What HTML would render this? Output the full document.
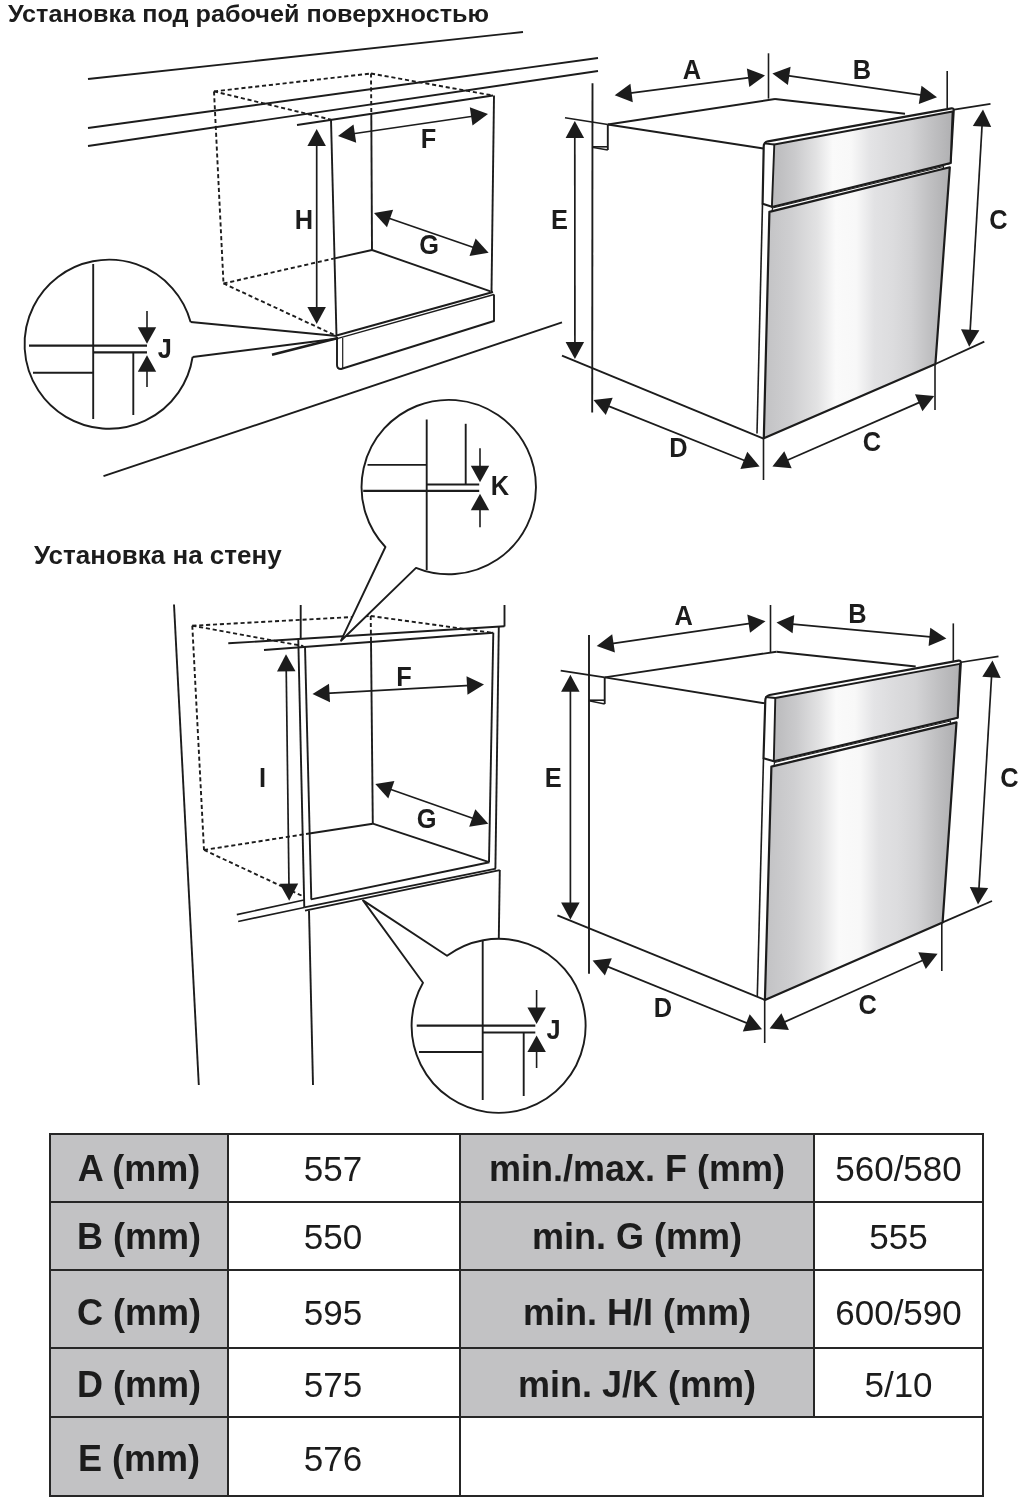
<!DOCTYPE html>
<html lang="ru"><head><meta charset="utf-8"><title>Установка</title>
<style>
html,body{margin:0;padding:0;background:#fff;}
body{width:1020px;height:1500px;overflow:hidden;font-family:"Liberation Sans",sans-serif;}
svg{display:block;}
svg text{font-family:"Liberation Sans",sans-serif;}
svg{will-change:transform;position:absolute;left:0;top:0;}
body{position:relative;color:#1c1c1c;}
h1,h2{position:absolute;margin:0;font-weight:bold;white-space:nowrap;line-height:1;transform-origin:0 0;will-change:transform;}
h1{left:8px;top:2.5px;font-size:23px;transform:scaleX(1.096);}
h2{left:33.7px;top:543.3px;font-size:25.7px;transform:scaleX(1.012);}
table{position:absolute;left:49px;top:1133px;border-collapse:collapse;table-layout:fixed;width:934px;will-change:transform;}
td,th{border:2px solid #262626;padding:0;text-align:center;vertical-align:middle;font-size:35px;font-weight:normal;line-height:40px;background:#fff;box-sizing:border-box;}
th{background:#c2c2c4;font-size:36px;font-weight:bold;}
td.v1{padding-right:22px;}
tr.r0>*{height:68px;padding-top:2px;}
tr.r1>*{height:68px;padding-top:2px;}
tr.r2>*{height:78px;padding-top:7px;}
tr.r3>*{height:69px;padding-top:5px;}
tr.r4>*{height:79px;padding-top:5px;}
</style></head><body>
<svg width="1020" height="1500" viewBox="0 0 1020 1500">
<defs>

<linearGradient id="g1" gradientUnits="userSpaceOnUse" x1="767" y1="0" x2="950" y2="0">
<stop offset="0" stop-color="#b6b6b8"/><stop offset="0.15" stop-color="#cacacc"/><stop offset="0.27" stop-color="#e2e2e3"/>
<stop offset="0.36" stop-color="#fafafa"/><stop offset="0.46" stop-color="#f8f8f8"/><stop offset="0.56" stop-color="#e4e4e6"/>
<stop offset="0.66" stop-color="#dcdcde"/><stop offset="0.78" stop-color="#d4d4d6"/><stop offset="0.89" stop-color="#c2c2c4"/><stop offset="1" stop-color="#b2b2b4"/>
</linearGradient>
<linearGradient id="g1d" gradientUnits="userSpaceOnUse" x1="764" y1="0" x2="948" y2="0">
<stop offset="0" stop-color="#c2c2c4"/><stop offset="0.15" stop-color="#cfcfd1"/><stop offset="0.29" stop-color="#e2e2e3"/>
<stop offset="0.39" stop-color="#fafafa"/><stop offset="0.50" stop-color="#f8f8f8"/><stop offset="0.60" stop-color="#e2e2e4"/>
<stop offset="0.70" stop-color="#dcdcde"/><stop offset="0.80" stop-color="#d2d2d4"/><stop offset="0.90" stop-color="#c0c0c2"/><stop offset="1" stop-color="#b0b0b2"/>
</linearGradient>
<linearGradient id="g2" gradientUnits="userSpaceOnUse" x1="768" y1="0" x2="957" y2="0">
<stop offset="0" stop-color="#b6b6b8"/><stop offset="0.15" stop-color="#cacacc"/><stop offset="0.27" stop-color="#e2e2e3"/>
<stop offset="0.36" stop-color="#fafafa"/><stop offset="0.46" stop-color="#f8f8f8"/><stop offset="0.56" stop-color="#e4e4e6"/>
<stop offset="0.66" stop-color="#dcdcde"/><stop offset="0.78" stop-color="#d4d4d6"/><stop offset="0.89" stop-color="#c2c2c4"/><stop offset="1" stop-color="#b2b2b4"/>
</linearGradient>
<linearGradient id="g2d" gradientUnits="userSpaceOnUse" x1="765" y1="0" x2="955" y2="0">
<stop offset="0" stop-color="#c2c2c4"/><stop offset="0.15" stop-color="#cfcfd1"/><stop offset="0.29" stop-color="#e2e2e3"/>
<stop offset="0.39" stop-color="#fafafa"/><stop offset="0.50" stop-color="#f8f8f8"/><stop offset="0.60" stop-color="#e2e2e4"/>
<stop offset="0.70" stop-color="#dcdcde"/><stop offset="0.80" stop-color="#d2d2d4"/><stop offset="0.90" stop-color="#c0c0c2"/><stop offset="1" stop-color="#b0b0b2"/>
</linearGradient>

</defs>
<rect width="1020" height="1500" fill="#fff"/>
<line x1="88.0" y1="79.0" x2="523.0" y2="32.0" stroke="#1c1c1c" stroke-width="1.9" stroke-linecap="butt"/>
<line x1="88.0" y1="128.0" x2="598.0" y2="58.0" stroke="#1c1c1c" stroke-width="1.9" stroke-linecap="butt"/>
<line x1="88.0" y1="146.0" x2="598.0" y2="71.0" stroke="#1c1c1c" stroke-width="1.9" stroke-linecap="butt"/>
<line x1="103.5" y1="476.2" x2="562.0" y2="322.3" stroke="#1c1c1c" stroke-width="1.9" stroke-linecap="butt"/>
<line x1="214.0" y1="91.4" x2="371.0" y2="73.5" stroke="#1c1c1c" stroke-width="1.9" stroke-dasharray="4.1 2.8" stroke-linecap="butt"/>
<line x1="371.0" y1="73.5" x2="493.0" y2="95.5" stroke="#1c1c1c" stroke-width="1.9" stroke-dasharray="4.1 2.8" stroke-linecap="butt"/>
<line x1="214.0" y1="91.4" x2="331.0" y2="119.6" stroke="#1c1c1c" stroke-width="1.9" stroke-dasharray="4.1 2.8" stroke-linecap="butt"/>
<line x1="214.0" y1="91.4" x2="223.5" y2="283.5" stroke="#1c1c1c" stroke-width="1.9" stroke-dasharray="4.1 2.8" stroke-linecap="butt"/>
<line x1="223.5" y1="283.5" x2="336.5" y2="336.0" stroke="#1c1c1c" stroke-width="1.9" stroke-dasharray="4.1 2.8" stroke-linecap="butt"/>
<line x1="223.5" y1="283.5" x2="333.5" y2="258.6" stroke="#1c1c1c" stroke-width="1.9" stroke-dasharray="4.1 2.8" stroke-linecap="butt"/>
<line x1="371.0" y1="73.5" x2="371.3" y2="114.0" stroke="#1c1c1c" stroke-width="1.9" stroke-dasharray="4.1 2.8" stroke-linecap="butt"/>
<line x1="371.3" y1="114.0" x2="372.0" y2="250.0" stroke="#1c1c1c" stroke-width="1.9" stroke-linecap="butt"/>
<line x1="297.0" y1="125.0" x2="493.0" y2="95.5" stroke="#1c1c1c" stroke-width="1.9" stroke-linecap="butt"/>
<line x1="331.0" y1="119.6" x2="336.5" y2="336.0" stroke="#1c1c1c" stroke-width="1.9" stroke-linecap="butt"/>
<line x1="494.0" y1="95.5" x2="491.5" y2="292.5" stroke="#1c1c1c" stroke-width="1.9" stroke-linecap="butt"/>
<line x1="333.5" y1="258.6" x2="372.0" y2="250.0" stroke="#1c1c1c" stroke-width="1.9" stroke-linecap="butt"/>
<line x1="372.0" y1="250.0" x2="490.5" y2="291.3" stroke="#1c1c1c" stroke-width="1.9" stroke-linecap="butt"/>
<line x1="336.5" y1="335.5" x2="493.0" y2="292.0" stroke="#1c1c1c" stroke-width="1.9" stroke-linecap="butt"/>
<line x1="338.0" y1="338.3" x2="494.0" y2="294.5" stroke="#1c1c1c" stroke-width="1.4" stroke-linecap="butt"/>
<path d="M337,337 L337,365 Q337,369 341,369 L494,321 L494,294.5" stroke="#1c1c1c" stroke-width="1.9" fill="none" stroke-linejoin="round" />
<line x1="342.7" y1="338.0" x2="342.7" y2="368.5" stroke="#1c1c1c" stroke-width="1.2" stroke-linecap="butt"/>
<line x1="272.0" y1="354.7" x2="338.0" y2="338.0" stroke="#1c1c1c" stroke-width="2.6" stroke-linecap="butt"/>
<path d="M190.6,322 A84.5 84.5 0 1 0 192.6,357" stroke="#1c1c1c" stroke-width="1.9" fill="none" stroke-linejoin="round" />
<line x1="190.6" y1="322.0" x2="337.0" y2="336.0" stroke="#1c1c1c" stroke-width="1.9" stroke-linecap="butt"/>
<line x1="192.6" y1="357.0" x2="338.0" y2="338.5" stroke="#1c1c1c" stroke-width="1.9" stroke-linecap="butt"/>
<line x1="93.2" y1="264.0" x2="93.2" y2="419.0" stroke="#1c1c1c" stroke-width="1.9" stroke-linecap="butt"/>
<line x1="29.0" y1="345.7" x2="147.0" y2="345.7" stroke="#1c1c1c" stroke-width="2.2" stroke-linecap="butt"/>
<line x1="93.2" y1="352.3" x2="147.0" y2="352.3" stroke="#1c1c1c" stroke-width="2.2" stroke-linecap="butt"/>
<line x1="133.3" y1="352.3" x2="133.3" y2="415.0" stroke="#1c1c1c" stroke-width="1.9" stroke-linecap="butt"/>
<line x1="33.0" y1="372.7" x2="93.2" y2="372.7" stroke="#1c1c1c" stroke-width="1.9" stroke-linecap="butt"/>
<line x1="147.0" y1="311.0" x2="147.0" y2="330.0" stroke="#1c1c1c" stroke-width="1.6" stroke-linecap="butt"/>
<polygon points="147.0,343.8 137.8,327.3 156.2,327.3" fill="#1c1c1c"/>
<line x1="147.0" y1="370.0" x2="147.0" y2="387.0" stroke="#1c1c1c" stroke-width="1.6" stroke-linecap="butt"/>
<polygon points="147.0,355.3 156.2,371.8 137.8,371.8" fill="#1c1c1c"/>
<text transform="translate(164.7,358.0) scale(0.94,1)" font-size="27" font-weight="bold" text-anchor="middle" fill="#1c1c1c">J</text>
<line x1="316.7" y1="142.6" x2="316.7" y2="310.4" stroke="#1c1c1c" stroke-width="1.7" stroke-linecap="butt"/>
<polygon points="316.7,324.0 307.4,307.0 325.9,307.0" fill="#1c1c1c"/>
<polygon points="316.7,129.0 325.9,146.0 307.4,146.0" fill="#1c1c1c"/>
<line x1="351.5" y1="134.0" x2="474.5" y2="116.0" stroke="#1c1c1c" stroke-width="1.7" stroke-linecap="butt"/>
<polygon points="488.0,114.0 472.5,125.6 469.8,107.3" fill="#1c1c1c"/>
<polygon points="338.0,136.0 353.5,124.4 356.2,142.7" fill="#1c1c1c"/>
<line x1="386.8" y1="217.5" x2="475.8" y2="248.3" stroke="#1c1c1c" stroke-width="1.7" stroke-linecap="butt"/>
<polygon points="488.6,252.8 469.5,256.0 475.6,238.5" fill="#1c1c1c"/>
<polygon points="374.0,213.0 393.1,209.8 387.0,227.3" fill="#1c1c1c"/>
<text transform="translate(428.5,148.0) scale(0.94,1)" font-size="27" font-weight="bold" text-anchor="middle" fill="#1c1c1c">F</text>
<text transform="translate(429.0,254.0) scale(0.94,1)" font-size="27" font-weight="bold" text-anchor="middle" fill="#1c1c1c">G</text>
<text transform="translate(304.0,228.6) scale(0.94,1)" font-size="27" font-weight="bold" text-anchor="middle" fill="#1c1c1c">H</text>
<line x1="592.5" y1="83.3" x2="592.2" y2="412.5" stroke="#1c1c1c" stroke-width="1.9" stroke-linecap="butt"/>
<line x1="565.0" y1="117.8" x2="607.8" y2="124.5" stroke="#1c1c1c" stroke-width="1.6" stroke-linecap="butt"/>
<line x1="607.8" y1="124.5" x2="775.0" y2="99.0" stroke="#1c1c1c" stroke-width="1.9" stroke-linecap="butt"/>
<line x1="775.0" y1="99.0" x2="905.0" y2="113.7" stroke="#1c1c1c" stroke-width="1.9" stroke-linecap="butt"/>
<line x1="607.8" y1="124.5" x2="763.5" y2="148.5" stroke="#1c1c1c" stroke-width="1.9" stroke-linecap="butt"/>
<line x1="607.8" y1="124.5" x2="607.8" y2="150.0" stroke="#1c1c1c" stroke-width="1.9" stroke-linecap="butt"/>
<line x1="592.0" y1="146.8" x2="607.8" y2="146.8" stroke="#1c1c1c" stroke-width="1.6" stroke-linecap="butt"/>
<line x1="592.0" y1="147.3" x2="607.8" y2="150.0" stroke="#1c1c1c" stroke-width="1.6" stroke-linecap="butt"/>
<line x1="562.0" y1="355.7" x2="763.5" y2="438.6" stroke="#1c1c1c" stroke-width="1.9" stroke-linecap="butt"/>
<line x1="762.5" y1="203.8" x2="757.0" y2="433.5" stroke="#1c1c1c" stroke-width="1.6" stroke-linecap="butt"/>
<path d="M763.7,146.5 Q763.7,142.3 768,141.3 L951.5,108.3 Q953.8,108 953.7,110.5 L950.6,163 L771.9,206.8 L762.6,203.8 Z" stroke="#1c1c1c" stroke-width="2.2" fill="#fff" stroke-linejoin="round" />
<path d="M774.3,144.5 L952.6,111.5 L950.6,163 L771.9,206.8 Z" stroke="#1c1c1c" stroke-width="1.9" fill="url(#g1)" stroke-linejoin="round" />
<line x1="764.0" y1="143.3" x2="774.3" y2="144.5" stroke="#1c1c1c" stroke-width="1.8" stroke-linecap="butt"/>
<path d="M772.5,208 L943.5,166.5 L943.2,169.5 L772,211.5 Z" stroke="#1c1c1c" stroke-width="1.2" fill="#fff" stroke-linejoin="round" />
<path d="M769.4,211.9 L949.8,167.3 L935.4,364 L763.8,438.3 Z" stroke="#1c1c1c" stroke-width="2.2" fill="url(#g1d)" stroke-linejoin="round" />
<line x1="935.4" y1="364.0" x2="984.3" y2="341.7" stroke="#1c1c1c" stroke-width="1.9" stroke-linecap="butt"/>
<line x1="954.0" y1="109.6" x2="990.5" y2="103.9" stroke="#1c1c1c" stroke-width="1.6" stroke-linecap="butt"/>
<line x1="768.5" y1="53.3" x2="768.5" y2="98.6" stroke="#1c1c1c" stroke-width="1.6" stroke-linecap="butt"/>
<line x1="947.2" y1="71.0" x2="947.2" y2="108.0" stroke="#1c1c1c" stroke-width="1.6" stroke-linecap="butt"/>
<line x1="763.5" y1="438.6" x2="763.5" y2="480.0" stroke="#1c1c1c" stroke-width="1.6" stroke-linecap="butt"/>
<line x1="935.0" y1="364.0" x2="935.0" y2="410.0" stroke="#1c1c1c" stroke-width="1.6" stroke-linecap="butt"/>
<line x1="628.2" y1="93.4" x2="751.5" y2="77.3" stroke="#1c1c1c" stroke-width="1.7" stroke-linecap="butt"/>
<polygon points="765.0,75.5 749.3,86.9 746.9,68.5" fill="#1c1c1c"/>
<polygon points="614.7,95.2 630.4,83.8 632.8,102.2" fill="#1c1c1c"/>
<line x1="785.9" y1="75.4" x2="923.5" y2="95.3" stroke="#1c1c1c" stroke-width="1.7" stroke-linecap="butt"/>
<polygon points="937.0,97.3 918.8,104.0 921.5,85.7" fill="#1c1c1c"/>
<polygon points="772.4,73.4 790.6,66.7 787.9,85.0" fill="#1c1c1c"/>
<line x1="982.2" y1="123.2" x2="970.0" y2="333.1" stroke="#1c1c1c" stroke-width="1.7" stroke-linecap="butt"/>
<polygon points="969.2,346.7 961.0,329.2 979.4,330.3" fill="#1c1c1c"/>
<polygon points="983.0,109.6 991.2,127.1 972.8,126.0" fill="#1c1c1c"/>
<line x1="784.9" y1="461.2" x2="921.8" y2="401.4" stroke="#1c1c1c" stroke-width="1.7" stroke-linecap="butt"/>
<polygon points="934.3,396.0 922.4,411.3 915.0,394.3" fill="#1c1c1c"/>
<polygon points="772.4,466.6 784.3,451.3 791.7,468.3" fill="#1c1c1c"/>
<line x1="606.1" y1="405.1" x2="747.0" y2="461.5" stroke="#1c1c1c" stroke-width="1.7" stroke-linecap="butt"/>
<polygon points="759.6,466.6 740.4,468.9 747.3,451.7" fill="#1c1c1c"/>
<polygon points="593.5,400.0 612.7,397.7 605.8,414.9" fill="#1c1c1c"/>
<line x1="574.8" y1="134.6" x2="574.9" y2="345.4" stroke="#1c1c1c" stroke-width="1.7" stroke-linecap="butt"/>
<polygon points="574.9,359.0 565.6,342.0 584.1,342.0" fill="#1c1c1c"/>
<polygon points="574.8,121.0 584.1,138.0 565.6,138.0" fill="#1c1c1c"/>
<text transform="translate(692.0,78.6) scale(0.94,1)" font-size="27" font-weight="bold" text-anchor="middle" fill="#1c1c1c">A</text>
<text transform="translate(862.0,78.9) scale(0.94,1)" font-size="27" font-weight="bold" text-anchor="middle" fill="#1c1c1c">B</text>
<text transform="translate(998.5,229.0) scale(0.94,1)" font-size="27" font-weight="bold" text-anchor="middle" fill="#1c1c1c">C</text>
<text transform="translate(872.0,451.0) scale(0.94,1)" font-size="27" font-weight="bold" text-anchor="middle" fill="#1c1c1c">C</text>
<text transform="translate(678.5,457.0) scale(0.94,1)" font-size="27" font-weight="bold" text-anchor="middle" fill="#1c1c1c">D</text>
<text transform="translate(559.5,229.2) scale(0.94,1)" font-size="27" font-weight="bold" text-anchor="middle" fill="#1c1c1c">E</text>
<line x1="174.0" y1="604.5" x2="198.8" y2="1085.0" stroke="#1c1c1c" stroke-width="1.9" stroke-linecap="butt"/>
<line x1="300.7" y1="605.0" x2="300.7" y2="639.3" stroke="#1c1c1c" stroke-width="1.9" stroke-linecap="butt"/>
<line x1="504.5" y1="605.0" x2="504.5" y2="626.5" stroke="#1c1c1c" stroke-width="1.9" stroke-linecap="butt"/>
<line x1="228.3" y1="643.3" x2="504.5" y2="626.3" stroke="#1c1c1c" stroke-width="1.9" stroke-linecap="butt"/>
<line x1="264.0" y1="650.0" x2="493.3" y2="632.7" stroke="#1c1c1c" stroke-width="1.9" stroke-linecap="butt"/>
<line x1="192.3" y1="625.7" x2="370.7" y2="616.0" stroke="#1c1c1c" stroke-width="1.9" stroke-dasharray="4.1 2.8" stroke-linecap="butt"/>
<line x1="370.7" y1="616.0" x2="491.7" y2="632.7" stroke="#1c1c1c" stroke-width="1.9" stroke-dasharray="4.1 2.8" stroke-linecap="butt"/>
<line x1="192.3" y1="625.7" x2="303.3" y2="646.0" stroke="#1c1c1c" stroke-width="1.9" stroke-dasharray="4.1 2.8" stroke-linecap="butt"/>
<line x1="192.3" y1="625.7" x2="204.0" y2="850.0" stroke="#1c1c1c" stroke-width="1.9" stroke-dasharray="4.1 2.8" stroke-linecap="butt"/>
<line x1="204.0" y1="850.0" x2="304.7" y2="897.0" stroke="#1c1c1c" stroke-width="1.9" stroke-dasharray="4.1 2.8" stroke-linecap="butt"/>
<line x1="204.0" y1="850.0" x2="306.0" y2="834.0" stroke="#1c1c1c" stroke-width="1.9" stroke-dasharray="4.1 2.8" stroke-linecap="butt"/>
<line x1="306.0" y1="834.0" x2="372.8" y2="823.7" stroke="#1c1c1c" stroke-width="1.9" stroke-linecap="butt"/>
<line x1="370.7" y1="616.0" x2="371.0" y2="640.0" stroke="#1c1c1c" stroke-width="1.9" stroke-dasharray="4.1 2.8" stroke-linecap="butt"/>
<line x1="371.0" y1="640.0" x2="372.8" y2="823.7" stroke="#1c1c1c" stroke-width="1.9" stroke-linecap="butt"/>
<line x1="372.8" y1="823.7" x2="488.3" y2="861.8" stroke="#1c1c1c" stroke-width="1.9" stroke-linecap="butt"/>
<line x1="298.3" y1="640.0" x2="304.3" y2="907.5" stroke="#1c1c1c" stroke-width="1.9" stroke-linecap="butt"/>
<line x1="305.0" y1="646.0" x2="311.3" y2="899.4" stroke="#1c1c1c" stroke-width="1.9" stroke-linecap="butt"/>
<line x1="493.3" y1="632.7" x2="489.0" y2="862.0" stroke="#1c1c1c" stroke-width="1.9" stroke-linecap="butt"/>
<line x1="498.8" y1="626.5" x2="495.4" y2="868.6" stroke="#1c1c1c" stroke-width="1.9" stroke-linecap="butt"/>
<line x1="311.0" y1="899.4" x2="489.5" y2="862.2" stroke="#1c1c1c" stroke-width="1.9" stroke-linecap="butt"/>
<line x1="304.3" y1="907.3" x2="496.0" y2="868.6" stroke="#1c1c1c" stroke-width="1.7" stroke-linecap="butt"/>
<line x1="305.0" y1="910.6" x2="499.8" y2="870.2" stroke="#1c1c1c" stroke-width="1.8" stroke-linecap="butt"/>
<line x1="236.8" y1="914.7" x2="304.0" y2="900.0" stroke="#1c1c1c" stroke-width="1.7" stroke-linecap="butt"/>
<line x1="238.2" y1="921.5" x2="304.3" y2="907.5" stroke="#1c1c1c" stroke-width="1.7" stroke-linecap="butt"/>
<line x1="309.0" y1="910.5" x2="313.0" y2="1085.0" stroke="#1c1c1c" stroke-width="1.9" stroke-linecap="butt"/>
<line x1="499.8" y1="870.0" x2="498.8" y2="938.0" stroke="#1c1c1c" stroke-width="1.9" stroke-linecap="butt"/>
<line x1="286.2" y1="667.9" x2="289.0" y2="887.1" stroke="#1c1c1c" stroke-width="1.7" stroke-linecap="butt"/>
<polygon points="289.2,900.7 279.7,883.8 298.2,883.6" fill="#1c1c1c"/>
<polygon points="286.0,654.3 295.5,671.2 277.0,671.4" fill="#1c1c1c"/>
<line x1="326.1" y1="693.3" x2="470.4" y2="685.3" stroke="#1c1c1c" stroke-width="1.7" stroke-linecap="butt"/>
<polygon points="484.0,684.6 467.5,694.8 466.5,676.3" fill="#1c1c1c"/>
<polygon points="312.5,694.0 329.0,683.8 330.0,702.3" fill="#1c1c1c"/>
<line x1="388.1" y1="788.5" x2="475.5" y2="819.2" stroke="#1c1c1c" stroke-width="1.7" stroke-linecap="butt"/>
<polygon points="488.3,823.7 469.2,826.8 475.3,809.3" fill="#1c1c1c"/>
<polygon points="375.3,784.0 394.4,780.9 388.3,798.4" fill="#1c1c1c"/>
<text transform="translate(404.0,686.0) scale(0.94,1)" font-size="27" font-weight="bold" text-anchor="middle" fill="#1c1c1c">F</text>
<text transform="translate(426.5,827.5) scale(0.94,1)" font-size="27" font-weight="bold" text-anchor="middle" fill="#1c1c1c">G</text>
<text transform="translate(262.6,787.0) scale(0.94,1)" font-size="27" font-weight="bold" text-anchor="middle" fill="#1c1c1c">I</text>
<path d="M447,955.8 A87 87 0 1 1 423,982.8 L363,900.4 Z" stroke="#1c1c1c" stroke-width="1.9" fill="#fff" stroke-linejoin="round" />
<line x1="482.7" y1="940.0" x2="482.7" y2="1100.0" stroke="#1c1c1c" stroke-width="1.9" stroke-linecap="butt"/>
<line x1="416.7" y1="1025.6" x2="535.3" y2="1025.6" stroke="#1c1c1c" stroke-width="2.2" stroke-linecap="butt"/>
<line x1="482.7" y1="1032.5" x2="535.3" y2="1032.5" stroke="#1c1c1c" stroke-width="2.2" stroke-linecap="butt"/>
<line x1="523.7" y1="1032.5" x2="523.7" y2="1096.0" stroke="#1c1c1c" stroke-width="1.9" stroke-linecap="butt"/>
<line x1="419.0" y1="1052.0" x2="482.7" y2="1052.0" stroke="#1c1c1c" stroke-width="1.9" stroke-linecap="butt"/>
<line x1="536.6" y1="990.0" x2="536.6" y2="1009.0" stroke="#1c1c1c" stroke-width="1.6" stroke-linecap="butt"/>
<polygon points="536.6,1023.9 527.4,1007.4 545.9,1007.4" fill="#1c1c1c"/>
<line x1="536.6" y1="1050.0" x2="536.6" y2="1068.0" stroke="#1c1c1c" stroke-width="1.6" stroke-linecap="butt"/>
<polygon points="536.6,1035.5 545.9,1052.0 527.4,1052.0" fill="#1c1c1c"/>
<text transform="translate(553.5,1039.0) scale(0.94,1)" font-size="27" font-weight="bold" text-anchor="middle" fill="#1c1c1c">J</text>
<path d="M385.4,547 A87.2 87.2 0 1 1 416,567.9 L341,640.7 Z" stroke="#1c1c1c" stroke-width="1.9" fill="#fff" stroke-linejoin="round" />
<line x1="426.7" y1="419.5" x2="426.7" y2="570.0" stroke="#1c1c1c" stroke-width="1.9" stroke-linecap="butt"/>
<line x1="465.7" y1="423.8" x2="465.7" y2="484.0" stroke="#1c1c1c" stroke-width="1.9" stroke-linecap="butt"/>
<line x1="367.5" y1="464.9" x2="426.7" y2="464.9" stroke="#1c1c1c" stroke-width="1.9" stroke-linecap="butt"/>
<line x1="426.7" y1="484.5" x2="479.2" y2="484.5" stroke="#1c1c1c" stroke-width="2.2" stroke-linecap="butt"/>
<line x1="363.2" y1="490.9" x2="479.2" y2="490.9" stroke="#1c1c1c" stroke-width="2.2" stroke-linecap="butt"/>
<line x1="480.0" y1="448.3" x2="480.0" y2="468.0" stroke="#1c1c1c" stroke-width="1.6" stroke-linecap="butt"/>
<polygon points="480.0,482.3 470.8,465.8 489.2,465.8" fill="#1c1c1c"/>
<line x1="480.0" y1="509.0" x2="480.0" y2="527.3" stroke="#1c1c1c" stroke-width="1.6" stroke-linecap="butt"/>
<polygon points="480.0,493.7 489.2,510.2 470.8,510.2" fill="#1c1c1c"/>
<text transform="translate(500.0,495.2) scale(0.94,1)" font-size="27" font-weight="bold" text-anchor="middle" fill="#1c1c1c">K</text>
<line x1="589.0" y1="635.0" x2="589.0" y2="973.7" stroke="#1c1c1c" stroke-width="1.9" stroke-linecap="butt"/>
<line x1="560.7" y1="670.6" x2="604.7" y2="677.4" stroke="#1c1c1c" stroke-width="1.6" stroke-linecap="butt"/>
<line x1="604.7" y1="677.4" x2="776.5" y2="651.7" stroke="#1c1c1c" stroke-width="1.9" stroke-linecap="butt"/>
<line x1="776.5" y1="651.7" x2="915.7" y2="666.5" stroke="#1c1c1c" stroke-width="1.9" stroke-linecap="butt"/>
<line x1="604.7" y1="677.4" x2="764.8" y2="703.3" stroke="#1c1c1c" stroke-width="1.9" stroke-linecap="butt"/>
<line x1="604.7" y1="677.4" x2="604.7" y2="704.0" stroke="#1c1c1c" stroke-width="1.9" stroke-linecap="butt"/>
<line x1="589.0" y1="700.2" x2="604.7" y2="700.2" stroke="#1c1c1c" stroke-width="1.6" stroke-linecap="butt"/>
<line x1="589.0" y1="700.7" x2="604.7" y2="704.0" stroke="#1c1c1c" stroke-width="1.6" stroke-linecap="butt"/>
<line x1="557.4" y1="915.3" x2="764.7" y2="999.8" stroke="#1c1c1c" stroke-width="1.9" stroke-linecap="butt"/>
<line x1="763.5" y1="758.2" x2="757.3" y2="996.0" stroke="#1c1c1c" stroke-width="1.6" stroke-linecap="butt"/>
<path d="M765.3,700.5 Q765.3,696.2 769.5,695 L958.5,660.6 Q961,660.3 960.8,663 L957.6,717.6 L773.8,761.2 L763.5,758.2 Z" stroke="#1c1c1c" stroke-width="2.2" fill="#fff" stroke-linejoin="round" />
<path d="M775.3,698 L960,663.9 L957.6,717.6 L773.8,761.2 Z" stroke="#1c1c1c" stroke-width="1.9" fill="url(#g2)" stroke-linejoin="round" />
<line x1="765.5" y1="697.0" x2="775.3" y2="698.0" stroke="#1c1c1c" stroke-width="1.8" stroke-linecap="butt"/>
<path d="M774.5,762.5 L950.5,721 L950.2,724 L774,766 Z" stroke="#1c1c1c" stroke-width="1.2" fill="#fff" stroke-linejoin="round" />
<path d="M771.4,766.6 L956.5,722.4 L942.6,922.4 L764.9,1000 Z" stroke="#1c1c1c" stroke-width="2.2" fill="url(#g2d)" stroke-linejoin="round" />
<line x1="942.6" y1="922.4" x2="992.0" y2="901.0" stroke="#1c1c1c" stroke-width="1.9" stroke-linecap="butt"/>
<line x1="961.0" y1="662.3" x2="998.5" y2="656.4" stroke="#1c1c1c" stroke-width="1.6" stroke-linecap="butt"/>
<line x1="770.5" y1="605.0" x2="770.5" y2="652.0" stroke="#1c1c1c" stroke-width="1.6" stroke-linecap="butt"/>
<line x1="953.3" y1="623.4" x2="953.3" y2="661.0" stroke="#1c1c1c" stroke-width="1.6" stroke-linecap="butt"/>
<line x1="764.7" y1="1000.0" x2="764.7" y2="1043.0" stroke="#1c1c1c" stroke-width="1.6" stroke-linecap="butt"/>
<line x1="941.8" y1="922.0" x2="941.8" y2="971.0" stroke="#1c1c1c" stroke-width="1.6" stroke-linecap="butt"/>
<line x1="610.2" y1="643.9" x2="752.0" y2="623.2" stroke="#1c1c1c" stroke-width="1.7" stroke-linecap="butt"/>
<polygon points="765.5,621.2 750.0,632.8 747.3,614.5" fill="#1c1c1c"/>
<polygon points="596.7,645.9 612.2,634.3 614.9,652.6" fill="#1c1c1c"/>
<line x1="790.0" y1="623.8" x2="932.9" y2="637.2" stroke="#1c1c1c" stroke-width="1.7" stroke-linecap="butt"/>
<polygon points="946.4,638.5 928.6,646.1 930.3,627.7" fill="#1c1c1c"/>
<polygon points="776.5,622.5 794.3,614.9 792.6,633.3" fill="#1c1c1c"/>
<line x1="991.7" y1="674.0" x2="978.8" y2="890.9" stroke="#1c1c1c" stroke-width="1.7" stroke-linecap="butt"/>
<polygon points="978.0,904.5 969.8,887.0 988.2,888.1" fill="#1c1c1c"/>
<polygon points="992.5,660.4 1000.7,677.9 982.3,676.8" fill="#1c1c1c"/>
<line x1="782.0" y1="1023.1" x2="925.2" y2="959.2" stroke="#1c1c1c" stroke-width="1.7" stroke-linecap="butt"/>
<polygon points="937.6,953.7 925.8,969.1 918.3,952.2" fill="#1c1c1c"/>
<polygon points="769.6,1028.6 781.4,1013.2 788.9,1030.1" fill="#1c1c1c"/>
<line x1="605.2" y1="965.6" x2="749.4" y2="1024.1" stroke="#1c1c1c" stroke-width="1.7" stroke-linecap="butt"/>
<polygon points="762.0,1029.2 742.8,1031.4 749.7,1014.2" fill="#1c1c1c"/>
<polygon points="592.6,960.5 611.8,958.3 604.9,975.5" fill="#1c1c1c"/>
<line x1="570.4" y1="688.3" x2="570.4" y2="905.8" stroke="#1c1c1c" stroke-width="1.7" stroke-linecap="butt"/>
<polygon points="570.4,919.4 561.1,902.4 579.6,902.4" fill="#1c1c1c"/>
<polygon points="570.4,674.7 579.6,691.7 561.1,691.7" fill="#1c1c1c"/>
<text transform="translate(683.7,624.5) scale(0.94,1)" font-size="27" font-weight="bold" text-anchor="middle" fill="#1c1c1c">A</text>
<text transform="translate(857.3,622.5) scale(0.94,1)" font-size="27" font-weight="bold" text-anchor="middle" fill="#1c1c1c">B</text>
<text transform="translate(1009.3,787.0) scale(0.94,1)" font-size="27" font-weight="bold" text-anchor="middle" fill="#1c1c1c">C</text>
<text transform="translate(867.6,1014.0) scale(0.94,1)" font-size="27" font-weight="bold" text-anchor="middle" fill="#1c1c1c">C</text>
<text transform="translate(663.0,1017.0) scale(0.94,1)" font-size="27" font-weight="bold" text-anchor="middle" fill="#1c1c1c">D</text>
<text transform="translate(553.3,787.0) scale(0.94,1)" font-size="27" font-weight="bold" text-anchor="middle" fill="#1c1c1c">E</text>
</svg>
<h1>Установка под рабочей поверхностью</h1>
<h2>Установка на стену</h2>
<table><colgroup><col style="width:178px"><col style="width:232px"><col style="width:354px"><col style="width:169px"></colgroup>
<tbody>
<tr class="r0"><th scope="row">A (mm)</th><td class="v1">557</td><th scope="row">min./max. F (mm)</th><td>560/580</td></tr>
<tr class="r1"><th scope="row">B (mm)</th><td class="v1">550</td><th scope="row">min. G (mm)</th><td>555</td></tr>
<tr class="r2"><th scope="row">C (mm)</th><td class="v1">595</td><th scope="row">min. H/I (mm)</th><td>600/590</td></tr>
<tr class="r3"><th scope="row">D (mm)</th><td class="v1">575</td><th scope="row">min. J/K (mm)</th><td>5/10</td></tr>
<tr class="r4"><th scope="row">E (mm)</th><td class="v1">576</td><td colspan="2"></td></tr>
</tbody></table>
</body></html>
